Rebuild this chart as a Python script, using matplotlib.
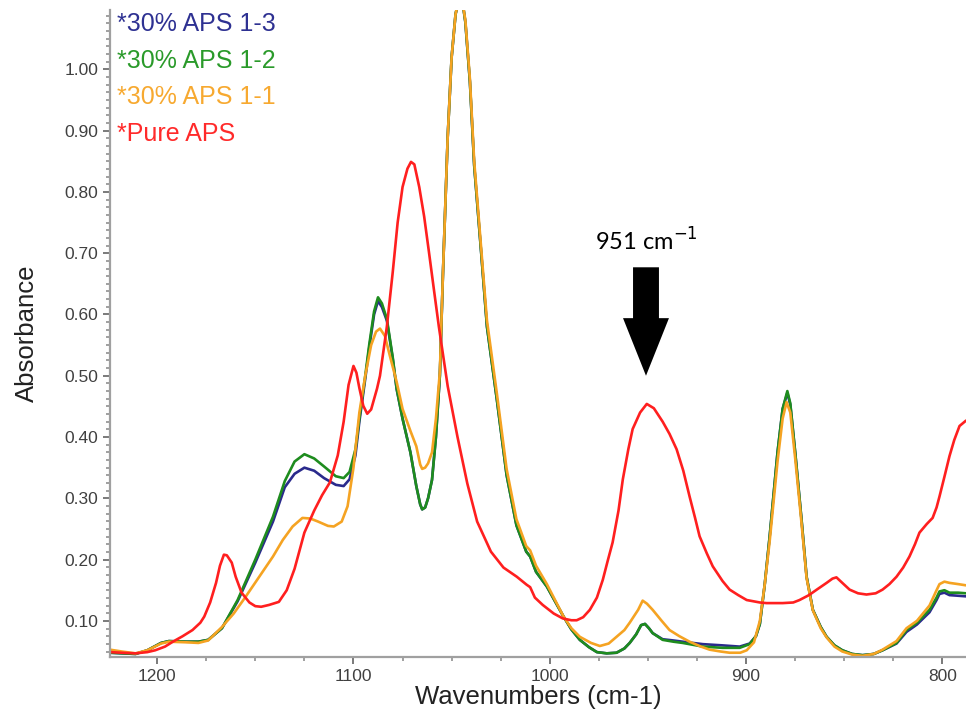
import matplotlib
matplotlib.use('Agg')
import matplotlib.pyplot as plt
import matplotlib.ticker as plticker

# wavenumbers (cm-1) shared by the 1-2 and 1-3 samples
wn_gb = [1224, 1211, 1205, 1198, 1194, 1185, 1179, 1174, 1167, 1159, 1150, 1141, 1135, 1130,
         1125, 1120, 1115, 1109, 1105, 1102, 1099, 1097, 1094, 1092, 1089.5, 1087.5, 1085.5,
         1083, 1080, 1078, 1075, 1071, 1068, 1066, 1065, 1063.5, 1062, 1060, 1058, 1056,
         1054.4, 1052, 1050, 1048, 1046, 1044, 1043, 1040.7, 1038.5, 1035, 1032, 1027, 1022,
         1017, 1012, 1010, 1007, 1001.5, 997, 993, 989, 984.7, 980, 976, 971, 966, 962,
         959.3, 956, 953.5, 951.5, 949.5, 947.6, 942.5, 937, 932.3, 922, 912, 903.3, 898.2,
         895, 893, 890.5, 888, 884, 881.4, 879, 877.5, 875, 871.8, 869.2, 866, 862, 859,
         855, 851, 846, 840.7, 835, 830.5, 823.4, 818.3, 813, 806.6, 803, 801.5, 799, 796.4,
         792, 788]
aps_1_2 = [0.048, 0.046, 0.052, 0.064, 0.067, 0.066, 0.066, 0.069, 0.088, 0.134, 0.200, 0.270,
           0.328, 0.360, 0.372, 0.365, 0.352, 0.336, 0.333, 0.343, 0.380, 0.430, 0.500, 0.550,
           0.605, 0.628, 0.618, 0.593, 0.530, 0.479, 0.430, 0.375, 0.320, 0.290, 0.282, 0.285,
           0.300, 0.330, 0.400, 0.500, 0.669, 0.890, 1.020, 1.090, 1.120, 1.100, 1.077, 0.980,
           0.843, 0.703, 0.580, 0.462, 0.338, 0.256, 0.213, 0.205, 0.180, 0.156, 0.130, 0.107,
           0.086, 0.069, 0.057, 0.049, 0.047, 0.048, 0.055, 0.064, 0.078, 0.093, 0.095, 0.088,
           0.080, 0.069, 0.066, 0.064, 0.058, 0.056, 0.056, 0.062, 0.075, 0.095, 0.160, 0.238,
           0.375, 0.446, 0.475, 0.455, 0.375, 0.266, 0.172, 0.118, 0.090, 0.074, 0.060, 0.052,
           0.046, 0.044, 0.046, 0.052, 0.064, 0.085, 0.097, 0.118, 0.138, 0.148, 0.150, 0.146,
           0.146, 0.145]
aps_1_3 = [0.048, 0.046, 0.052, 0.064, 0.067, 0.066, 0.066, 0.069, 0.088, 0.132, 0.195, 0.262,
           0.318, 0.340, 0.350, 0.345, 0.333, 0.322, 0.320, 0.331, 0.370, 0.425, 0.495, 0.545,
           0.600, 0.622, 0.612, 0.590, 0.528, 0.478, 0.430, 0.375, 0.320, 0.290, 0.282, 0.285,
           0.300, 0.330, 0.400, 0.500, 0.669, 0.890, 1.020, 1.090, 1.120, 1.100, 1.077, 0.980,
           0.843, 0.703, 0.580, 0.462, 0.338, 0.256, 0.213, 0.205, 0.180, 0.156, 0.130, 0.107,
           0.086, 0.069, 0.057, 0.049, 0.047, 0.048, 0.055, 0.064, 0.078, 0.093, 0.095, 0.088,
           0.080, 0.070, 0.068, 0.066, 0.062, 0.060, 0.058, 0.063, 0.075, 0.095, 0.160, 0.238,
           0.375, 0.446, 0.472, 0.453, 0.375, 0.266, 0.172, 0.118, 0.090, 0.074, 0.060, 0.052,
           0.046, 0.044, 0.046, 0.052, 0.063, 0.082, 0.094, 0.114, 0.134, 0.144, 0.146, 0.142,
           0.141, 0.140]

wn_or = [1224, 1218, 1211, 1205, 1198, 1194, 1185, 1179, 1174, 1167, 1161, 1155, 1148, 1141,
         1136, 1131, 1126, 1122, 1118, 1113, 1110, 1106, 1103, 1100, 1097, 1094, 1091, 1088.5,
         1086.5, 1084, 1081.5, 1078, 1075, 1071, 1068, 1066, 1065, 1063.5, 1062, 1060, 1058,
         1056, 1054.4, 1052, 1050, 1048, 1046, 1044, 1043, 1040.7, 1038.5, 1035, 1032, 1027,
         1022, 1017, 1012, 1010, 1007, 1001.5, 997, 993, 989, 984.7, 979, 974.5, 970, 966, 962,
         959.3, 955, 952.7, 950.5, 947.6, 943, 939, 934, 928.8, 923, 918.6, 913, 908.4, 903,
         899.7, 896, 893, 890.5, 888, 884, 881.4, 879.4, 877.5, 875, 871.8, 869.2, 866, 862,
         859, 855, 851, 846, 840.7, 835, 830.5, 823.4, 818.3, 813, 806.6, 803, 801.5, 799,
         796.4, 792, 788]
aps_1_1 = [0.053, 0.050, 0.047, 0.052, 0.063, 0.066, 0.065, 0.064, 0.068, 0.090, 0.112, 0.139,
           0.172, 0.205, 0.232, 0.254, 0.268, 0.267, 0.262, 0.255, 0.254, 0.262, 0.287, 0.350,
           0.440, 0.500, 0.550, 0.572, 0.577, 0.565, 0.533, 0.490, 0.446, 0.410, 0.385, 0.355,
           0.348, 0.350, 0.357, 0.375, 0.430, 0.506, 0.669, 0.890, 1.020, 1.090, 1.120, 1.100,
           1.080, 0.985, 0.850, 0.710, 0.590, 0.472, 0.348, 0.266, 0.222, 0.215, 0.190, 0.160,
           0.132, 0.107, 0.088, 0.074, 0.064, 0.059, 0.063, 0.074, 0.085, 0.097, 0.118, 0.133,
           0.128, 0.118, 0.100, 0.085, 0.075, 0.066, 0.058, 0.053, 0.050, 0.048, 0.048, 0.052,
           0.065, 0.100, 0.160, 0.230, 0.360, 0.430, 0.457, 0.440, 0.365, 0.260, 0.170, 0.117,
           0.088, 0.073, 0.058, 0.050, 0.045, 0.043, 0.046, 0.053, 0.067, 0.088, 0.100, 0.125,
           0.150, 0.160, 0.164, 0.162, 0.160, 0.158]

wn_red = [1224, 1218, 1211, 1205, 1201, 1196, 1192, 1187, 1182, 1178, 1176, 1173, 1170, 1168,
          1166, 1164.5, 1162, 1160, 1157, 1153, 1150, 1147, 1143, 1138, 1134, 1130, 1125, 1120,
          1116, 1112, 1108, 1105, 1102.5, 1100, 1098.5, 1097, 1095, 1093, 1091, 1088, 1086.5,
          1083, 1080, 1077.5, 1075, 1072.5, 1070.7, 1069, 1066.5, 1064, 1061.6, 1059, 1056.5,
          1052, 1047, 1042, 1037, 1030, 1023.6, 1016.8, 1011.8, 1010, 1007.6, 1003.6, 998,
          993.4, 989, 986.3, 983, 979.6, 976, 973, 970.5, 968, 965, 962.8, 960, 957.8, 954,
          950.6, 947, 942.5, 939, 935.4, 932, 928.8, 926, 923.7, 920, 917, 912, 908.4, 904,
          899.7, 893, 889.6, 881.4, 876, 872.8, 868, 864, 859, 856, 854, 851, 847.3, 843,
          838.7, 834, 830.5, 827, 823.4, 820, 816.8, 814, 811.7, 808, 805, 803, 801.5, 799,
          796.4, 794, 791.3, 788.3]
pure_aps = [0.049, 0.048, 0.047, 0.049, 0.052, 0.058, 0.066, 0.075, 0.085, 0.097, 0.107, 0.130,
            0.162, 0.190, 0.208, 0.207, 0.195, 0.172, 0.146, 0.130, 0.124, 0.123, 0.126, 0.131,
            0.150, 0.185, 0.244, 0.280, 0.305, 0.326, 0.370, 0.425, 0.485, 0.516, 0.505, 0.480,
            0.451, 0.438, 0.445, 0.479, 0.500, 0.580, 0.669, 0.750, 0.808, 0.838, 0.849, 0.845,
            0.808, 0.760, 0.703, 0.640, 0.580, 0.483, 0.400, 0.324, 0.262, 0.213, 0.187, 0.172,
            0.159, 0.155, 0.138, 0.126, 0.112, 0.104, 0.101, 0.101, 0.106, 0.118, 0.138, 0.167,
            0.198, 0.228, 0.280, 0.331, 0.380, 0.413, 0.440, 0.454, 0.447, 0.425, 0.405, 0.380,
            0.345, 0.303, 0.268, 0.238, 0.210, 0.189, 0.165, 0.151, 0.142, 0.134, 0.130, 0.129,
            0.129, 0.130, 0.134, 0.142, 0.151, 0.162, 0.169, 0.171, 0.162, 0.151, 0.145, 0.143,
            0.145, 0.151, 0.160, 0.172, 0.187, 0.205, 0.225, 0.244, 0.258, 0.268, 0.285, 0.303,
            0.335, 0.369, 0.395, 0.418, 0.426]

labels = ['*30% APS 1-3', '*30% APS 1-2', '*30% APS 1-1', '*Pure APS']
line_colors = ['#2a2a8c', '#1e8c1e', '#f5a322', '#ff1f1f']
text_colors = ['#2e3192', '#2a9a2a', '#f7a930', '#ff2a2a']
peak_label = '951 cm$^{-1}$'
peak_wn = 951

plt.rcParams['font.family'] = ['Liberation Sans', 'DejaVu Sans']

fig = plt.figure(figsize=(9.66, 7.19), dpi=100)
ax = fig.add_axes([0.1139, 0.0862, 0.8861, 0.9])

lw = 1.9
ax.plot(wn_gb, aps_1_3, color=line_colors[0], lw=lw)
ax.plot(wn_gb, aps_1_2, color=line_colors[1], lw=lw)
ax.plot(wn_or, aps_1_1, color=line_colors[2], lw=lw)
ax.plot(wn_red, pure_aps, color=line_colors[3], lw=lw)

ax.set_xlim(1224, 788)
ax.set_ylim(0.041, 1.097)

# achsen
for s in ['top', 'right']:
    ax.spines[s].set_visible(False)
for s in ['left', 'bottom']:
    ax.spines[s].set_color('#a0a0a0')
    ax.spines[s].set_linewidth(1.6)

ax.xaxis.set_major_locator(plticker.MultipleLocator(100))
ax.xaxis.set_minor_locator(plticker.MultipleLocator(25))
ax.yaxis.set_major_locator(plticker.MultipleLocator(0.1))
ax.yaxis.set_minor_locator(plticker.MultipleLocator(0.0125))
ax.yaxis.set_major_formatter('{x:.2f}')
ax.tick_params(which='major', length=5, width=1.3, color='#707070',
               labelcolor='#404040', labelsize=12.5)
ax.tick_params(which='minor', length=3, width=1.2, color='#909090')

ax.set_xlabel('Wavenumbers (cm-1)', fontsize=18.5, color='#222222', labelpad=1)
ax.set_ylabel('Absorbance', fontsize=18.5, color='#222222', labelpad=18)

# legende als farbige texte
for i, (lab, c) in enumerate(zip(labels, text_colors)):
    ax.text(0.008, 0.978 - i * 0.0565, lab, transform=ax.transAxes, color=c,
            fontsize=18, ha='left', va='center')

# pfeil auf die bande
ax.arrow(peak_wn, 0.677, 0, -0.177, width=13.2, head_width=23.4, head_length=0.094,
         length_includes_head=True, color='black', lw=0)
ax.text(peak_wn, 0.72, peak_label, ha='center', va='center', fontsize=17,
        family=['Lato', 'DejaVu Sans'], color='black')

fig.savefig('out.png', dpi=100)
